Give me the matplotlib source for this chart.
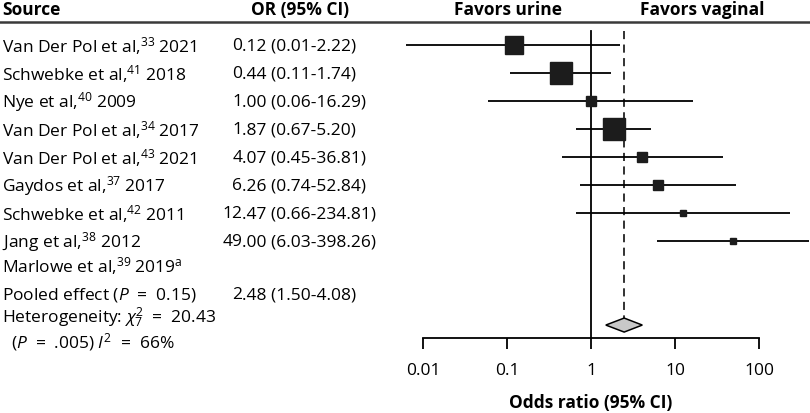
import numpy as np
import matplotlib.pyplot as plt
from matplotlib.ticker import FixedLocator, FixedFormatter, NullLocator

# --- data ---
authors = ["Van Der Pol et al", "Schwebke et al", "Nye et al", "Van Der Pol et al",
           "Van Der Pol et al", "Gaydos et al", "Schwebke et al", "Jang et al", "Marlowe et al"]
refs = ["33", "41", "40", "34", "43", "37", "42", "38", "39"]
years = ["2021", "2018", "2009", "2017", "2021", "2017", "2011", "2012", "2019"]
notes = ["", "", "", "", "", "", "", "", "a"]
odds = [0.12, 0.44, 1.00, 1.87, 4.07, 6.26, 12.47, 49.00, np.nan]
ci_lo = [0.0063, 0.11, 0.06, 0.67, 0.45, 0.74, 0.66, 6.03, np.nan]
ci_hi = [2.22, 1.74, 16.29, 5.20, 36.81, 52.84, 234.81, 398.26, np.nan]
weights = [20.4, 29.9, 5.6, 27.3, 5.6, 5.6, 2.8, 2.8, 0.0]

pooled_or = 2.48
pooled_lo = 1.50
pooled_hi = 4.08
pooled_p = "0.15"
het_chi2 = "20.43"
het_df = "7"
het_p = ".005"
het_i2 = "66%"

xticks = [0.01, 0.1, 1, 10, 100]
xtick_labels = ["0.01", "0.1", "1", "10", "100"]

FONT = "Open Sans"
plt.rcParams["font.family"] = [FONT, "DejaVu Sans"]
plt.rcParams["font.size"] = 12.5
plt.rcParams["mathtext.fontset"] = "custom"
plt.rcParams["mathtext.rm"] = FONT
plt.rcParams["mathtext.it"] = FONT + ":italic"
plt.rcParams["mathtext.bf"] = FONT + ":bold"

fig = plt.figure(figsize=(8.1, 4.14), dpi=100)

n = len(authors)
rows = np.arange(n).astype(float)
rows[-1] -= 0.15          # footnoted study sits a little higher
ylim = (13.14, -1.643)

# text columns (figure fraction in x, row units in y)
axt = fig.add_axes([0, 0, 1, 1])
axt.set_xlim(0, 1)
axt.set_ylim(*ylim)
axt.axis("off")

# forest panel
ax = fig.add_axes([400 / 810, 0, 410 / 810, 1])
ax.set_xscale("log")
ax.set_xlim(10 ** -2.274, 10 ** 2.607)
ax.set_ylim(*ylim)
ax.patch.set_visible(False)

hdr_y = -1.29
axt.text(0.003, hdr_y, "Source", fontweight="bold", va="center", ha="left")
axt.text(0.370, hdr_y, "OR (95% CI)", fontweight="bold", va="center", ha="center")
axt.text(0.627, hdr_y, "Favors urine", fontweight="bold", va="center", ha="center")
axt.text(0.867, hdr_y, "Favors vaginal", fontweight="bold", va="center", ha="center")
axt.axhline(-0.82, color="#3a3a3a", lw=1.8)

dec_x = 0.299
for i, y in enumerate(rows):
    lbl = authors[i] + ",$^{" + refs[i] + "}$ " + years[i]
    if notes[i]:
        lbl += "$^{\\mathrm{" + notes[i] + "}}$"
    axt.text(0.003, y, lbl, va="center", ha="left")
    if not np.isnan(odds[i]):
        s = f"{odds[i]:.2f} ({ci_lo[i]:.2f}-{ci_hi[i]:.2f})"
        intpart, rest = s.split(".", 1)
        axt.text(dec_x, y, intpart, va="center", ha="right")
        axt.text(dec_x, y, "." + rest, va="center", ha="left")
        ax.plot([ci_lo[i], ci_hi[i]], [y, y], color="black", lw=1.3, zorder=2,
                solid_capstyle="butt")
        ax.plot(odds[i], y, marker="s", color="#1c1c1c", linestyle="none",
                markersize=np.sqrt(weights[i]) * 3.0, zorder=3)

pool_txt_y = n - 0.1
axt.text(0.003, pool_txt_y, "Pooled effect ($\\mathit{P}$  =  " + pooled_p + ")",
         va="center", ha="left")
s = f"{pooled_or:.2f} ({pooled_lo:.2f}-{pooled_hi:.2f})"
intpart, rest = s.split(".", 1)
axt.text(dec_x, pool_txt_y, intpart, va="center", ha="right")
axt.text(dec_x, pool_txt_y, "." + rest, va="center", ha="left")

axt.text(0.003, n + 0.70, "Heterogeneity: $\\chi^{2}_{" + het_df + "}$  =  " + het_chi2,
         va="center", ha="left")
axt.text(0.003, n + 1.56, "  ($\\mathit{P}$  =  " + het_p + ") $\\mathit{I}^{2}$  =  " + het_i2,
         va="center", ha="left")

# reference lines and pooled diamond
axis_y = n + 1.46
diam_y = n + 1
ax.plot([1, 1], [-0.5, axis_y], color="black", lw=1.3, zorder=1)
ax.plot([pooled_or, pooled_or], [-0.5, diam_y - 0.25], color="#222222", lw=1.3,
        linestyle=(0, (4.5, 3)), zorder=1)
ax.fill([pooled_lo, pooled_or, pooled_hi, pooled_or],
        [diam_y, diam_y - 0.25, diam_y, diam_y + 0.25],
        facecolor="#c8c8c8", edgecolor="black", lw=1.1, zorder=3)

for side in ["top", "left", "right"]:
    ax.spines[side].set_visible(False)
ax.spines["bottom"].set_position(("data", axis_y))
ax.spines["bottom"].set_bounds(xticks[0], xticks[-1])
ax.spines["bottom"].set_linewidth(1.3)
ax.xaxis.set_major_locator(FixedLocator(xticks))
ax.xaxis.set_major_formatter(FixedFormatter(xtick_labels))
ax.xaxis.set_minor_locator(NullLocator())
ax.tick_params(axis="x", direction="out", length=8, width=1.3, pad=9, labelsize=12.5)
ax.set_yticks([])

ax.text(1, n + 3.75, "Odds ratio (95% CI)", fontweight="bold", ha="center", va="center")

fig.savefig("out.png", dpi=100)
